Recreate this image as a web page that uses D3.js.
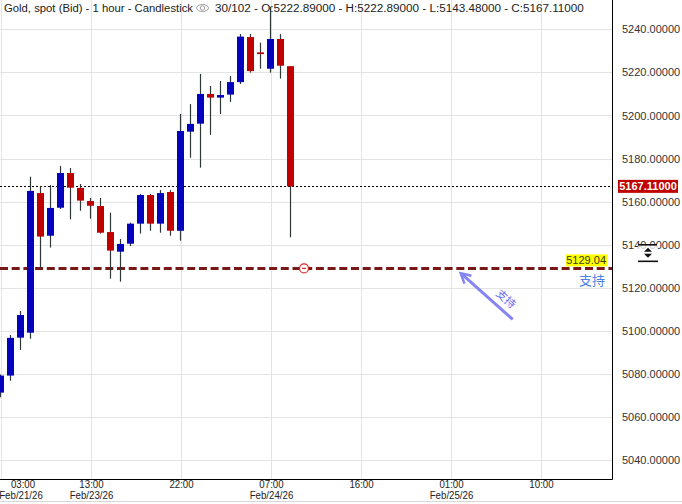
<!DOCTYPE html>
<html>
<head>
<meta charset="utf-8">
<script src="https://cdn.jsdelivr.net/npm/d3@7"></script>
<style>
  body { margin: 0; background: #fff; }
  svg { display: block; font-family: Arial, "Liberation Sans", sans-serif; }
</style>
</head>
<body>
<div id="chart"></div>
<script>
// candles, one per hour, index 0 = 03:00 Feb/21/26
var opens  = [5071.4, 5079.3, 5096.9, 5099.2, 5164.0, 5144.2, 5157.2, 5173.3, 5166.4, 5160.3,
              5158.0, 5145.9, 5136.8, 5140.5, 5149.8, 5163.1, 5149.8, 5164.5, 5146.5, 5192.5,
              5196.2, 5210.0, 5208.3, 5209.7, 5215.5, 5236.4, 5229.3, 5221.7, 5235.5, 5222.89]
var highs  = [5079.8, 5098.1, 5109.3, 5171.6, 5167.3, 5167.7, 5176.6, 5175.6, 5168.2, 5161.7,
              5161.7, 5154.9, 5142.7, 5150.3, 5163.6, 5163.6, 5165.4, 5165.4, 5200.7, 5205.3,
              5219.3, 5213.7, 5216.0, 5218.3, 5237.8, 5237.8, 5233.8, 5250.5, 5237.8, 5222.89]
var lows   = [5069.2, 5076.9, 5091.2, 5096.4, 5129.1, 5138.7, 5156.6, 5151.8, 5155.8, 5152.1,
              5145.2, 5124.3, 5122.9, 5139.4, 5145.2, 5146.5, 5145.6, 5144.2, 5141.9, 5180.4,
              5175.8, 5191.0, 5200.7, 5206.3, 5214.6, 5219.9, 5221.7, 5219.9, 5217.1, 5143.48]
var closes = [5079.3, 5096.8, 5107.4, 5165.0, 5143.8, 5157.1, 5173.3, 5166.5, 5160.5, 5158.1,
              5145.6, 5137.3, 5140.4, 5149.8, 5163.1, 5149.8, 5164.0, 5146.5, 5192.8, 5196.1,
              5210.0, 5208.3, 5209.5, 5215.5, 5236.6, 5220.6, 5228.5, 5235.5, 5223.1, 5167.11]

var tickIdx   = [0, 9, 18, 27, 36, 45, 54]
var tickTime  = ["03:00", "13:00", "22:00", "07:00", "16:00", "01:00", "10:00"]
var tickDate  = ["Feb/21/26", "Feb/23/26", "", "Feb/24/26", "", "Feb/25/26", ""]
var priceTicks = [5040, 5060, 5080, 5100, 5120, 5140, 5160, 5180, 5200, 5220, 5240]

var lastPrice = 5167.11
var supportPrice = 5129.04
var supportText = "支持"
var header = "Gold, spot (Bid) - 1 hour - Candlestick"
var header2 = "30/102 - O:5222.89000 - H:5222.89000 - L:5143.48000 - C:5167.11000"

var W = 682, H = 504
var plotW = 612, plotH = 479

var svg = d3.select("#chart").append("svg")
    .attr("width", W).attr("height", H)

var x = d3.scaleLinear().domain([0, 1]).range([0.5, 10.5])
var y = d3.scaleLinear().domain([5031.3, 5253.6]).range([plotH, 0])

// grid
var grid = svg.append("g")
grid.selectAll(".hg").data(priceTicks).enter().append("line")
    .attr("x1", 0).attr("x2", plotW)
    .attr("y1", function(d) { return Math.round(y(d)) + 0.5 })
    .attr("y2", function(d) { return Math.round(y(d)) + 0.5 })
    .attr("stroke", "#e3e3e3")
grid.selectAll(".vg").data(tickIdx).enter().append("line")
    .attr("x1", function(d) { return x(d) + 1 })
    .attr("x2", function(d) { return x(d) + 1 })
    .attr("y1", 0).attr("y2", plotH)
    .attr("stroke", "#e3e3e3")

// last price dotted line
svg.append("line")
    .attr("x1", 0).attr("x2", plotW)
    .attr("y1", Math.round(y(lastPrice)) + 0.5).attr("y2", Math.round(y(lastPrice)) + 0.5)
    .attr("stroke", "#000").attr("stroke-dasharray", "2,2")

// support line
svg.append("line")
    .attr("x1", 0).attr("x2", plotW)
    .attr("y1", y(supportPrice)).attr("y2", y(supportPrice))
    .attr("stroke", "#7a1818").attr("stroke-width", 3)
    .attr("stroke-dasharray", "8,3.7")

// candles
var idx = d3.range(opens.length)
var candles = svg.append("g")
candles.selectAll(".wick").data(idx).enter().append("line")
    .attr("x1", function(i) { return x(i) }).attr("x2", function(i) { return x(i) })
    .attr("y1", function(i) { return y(highs[i]) })
    .attr("y2", function(i) { return y(lows[i]) })
    .attr("stroke", "#2e3838").attr("stroke-width", 1.2)
candles.selectAll(".body").data(idx).enter().append("rect")
    .attr("x", function(i) { return x(i) - 3.5 })
    .attr("width", 7)
    .attr("y", function(i) { return y(Math.max(opens[i], closes[i])) })
    .attr("height", function(i) { return Math.max(1.5, Math.abs(y(opens[i]) - y(closes[i]))) })
    .attr("fill", function(i) { return closes[i] >= opens[i] ? "#0303bd" : "#c00000" })

// marker on support line
var mk = svg.append("g").attr("transform", "translate(" + x(30.35) + "," + y(supportPrice) + ")")
mk.append("circle").attr("r", 4.5).attr("fill", "#fff").attr("stroke", "#e02020").attr("stroke-width", 1.2)
mk.append("line").attr("x1", -2).attr("x2", 2).attr("stroke", "#e02020").attr("stroke-width", 1.2)

// arrow annotation
var ax1 = x(51.22), ay1 = y(5105.4), ax2 = x(46.02), ay2 = y(5126.8)
var ang = Math.atan2(ay2 - ay1, ax2 - ax1)
svg.append("line")
    .attr("x1", ax1).attr("y1", ay1)
    .attr("x2", ax2 - Math.cos(ang) * 3).attr("y2", ay2 - Math.sin(ang) * 3)
    .attr("stroke", "#8484f4").attr("stroke-width", 3)
var hl = 11
svg.append("path")
    .attr("d", "M" + (ax2 - Math.cos(ang - 0.5) * hl) + "," + (ay2 - Math.sin(ang - 0.5) * hl) +
               "L" + ax2 + "," + ay2 +
               "L" + (ax2 - Math.cos(ang + 0.5) * hl) + "," + (ay2 - Math.sin(ang + 0.5) * hl))
    .attr("fill", "none").attr("stroke", "#8484f4").attr("stroke-width", 2.5)
svg.append("text")
    .attr("transform", "translate(" + x(50.62) + "," + y(5115.3) + ") rotate(" + (ang * 180 / Math.PI + 180) + ")")
    .attr("text-anchor", "middle").attr("dominant-baseline", "central")
    .attr("font-size", 11).attr("fill", "#6a6af0")
    .attr("font-family", "'Noto Sans CJK SC', sans-serif")
    .text(supportText)

// support label
var sy = y(supportPrice)
svg.append("rect").attr("x", 566).attr("y", sy - 14).attr("width", 41).attr("height", 12).attr("fill", "#ffff00")
svg.append("text").attr("x", 606).attr("y", sy - 4).attr("text-anchor", "end")
    .attr("font-size", 11).attr("fill", "#3a3a1a").text(supportPrice.toFixed(2))
svg.append("text").attr("x", 605).attr("y", sy + 17).attr("text-anchor", "end")
    .attr("font-size", 13).attr("fill", "#4b82e6")
    .attr("font-family", "'Noto Sans CJK SC', sans-serif")
    .text(supportText)

// axes frame
svg.append("line").attr("x1", plotW + 0.5).attr("x2", plotW + 0.5).attr("y1", 0).attr("y2", plotH + 0.5)
    .attr("stroke", "#000")
svg.append("line").attr("x1", 0).attr("x2", plotW + 0.5).attr("y1", plotH + 0.5).attr("y2", plotH + 0.5)
    .attr("stroke", "#000")
svg.append("line").attr("x1", 0).attr("x2", W).attr("y1", H - 2.5).attr("y2", H - 2.5)
    .attr("stroke", "#d8d8d8")

// y axis labels
var yAxis = svg.append("g").attr("transform", "translate(" + (plotW + 10) + ",0)")
    .call(d3.axisRight(y).tickValues(priceTicks).tickSize(0).tickPadding(0)
        .tickFormat(function(d) { return d.toFixed(5) }))
yAxis.select(".domain").remove()
yAxis.selectAll("text").attr("font-size", 11).attr("fill", "#333").attr("font-family", "Arial, 'Liberation Sans', sans-serif")

// covering box + scroll icon over 5140
var ic = svg.append("g").attr("transform", "translate(648," + y(5136.5) + ")")
ic.append("rect").attr("x", -10).attr("y", -8).attr("width", 20).attr("height", 16).attr("fill", "#fff").attr("opacity", 0.75)
ic.append("line").attr("x1", -10).attr("x2", 9).attr("y1", -7.5).attr("y2", -7.5).attr("stroke", "#111").attr("stroke-width", 1.6)
ic.append("line").attr("x1", -10).attr("x2", 10).attr("y1", 9).attr("y2", 9).attr("stroke", "#111").attr("stroke-width", 1.6)
ic.append("path").attr("d", "M-4,-0.5L4,-0.5L0,-4.5Z").attr("fill", "#111")
ic.append("path").attr("d", "M-4,1.5L4,1.5L0,5.5Z").attr("fill", "#111")

// last price tag
var ly = y(lastPrice)
svg.append("rect").attr("x", 618).attr("y", ly - 6.5).attr("width", 60).attr("height", 13).attr("fill", "#c00000")
svg.append("text").attr("x", 648).attr("y", ly + 4).attr("text-anchor", "middle")
    .attr("font-size", 11).attr("font-weight", "bold").attr("fill", "#fff").text(lastPrice.toFixed(5))

// x axis labels (narrow font look)
function narrow(cx) { return "translate(" + cx + ",0) scale(0.88,1) translate(" + (-cx) + ",0)" }
var xl = svg.append("g")
xl.selectAll(".tt").data(tickIdx).enter().append("text")
    .attr("x", function(d) { return Math.max(x(d) + 1, 23) })
    .attr("y", 488).attr("text-anchor", "middle")
    .attr("font-size", 11).attr("fill", "#222")
    .attr("transform", function(d) { return narrow(Math.max(x(d) + 1, 23)) })
    .text(function(d, k) { return tickTime[k] })
xl.selectAll(".td").data(tickIdx).enter().append("text")
    .attr("x", function(d) { return Math.max(x(d) + 1, 21) })
    .attr("y", 499).attr("text-anchor", "middle")
    .attr("font-size", 11).attr("fill", "#222")
    .attr("transform", function(d) { return narrow(Math.max(x(d) + 1, 21)) })
    .text(function(d, k) { return tickDate[k] })

// header
svg.append("text").attr("x", 4).attr("y", 12).attr("font-size", 11.3).attr("fill", "#222").text(header)
var eye = svg.append("g").attr("transform", "translate(202.5,8)")
eye.append("ellipse").attr("rx", 6).attr("ry", 3.5).attr("fill", "none").attr("stroke", "#888").attr("stroke-width", 0.8)
eye.append("circle").attr("r", 2.2).attr("fill", "none").attr("stroke", "#888").attr("stroke-width", 0.8)
svg.append("text").attr("x", 215).attr("y", 12).attr("font-size", 11.7).attr("fill", "#222").text(header2)
</script>
</body>
</html>
